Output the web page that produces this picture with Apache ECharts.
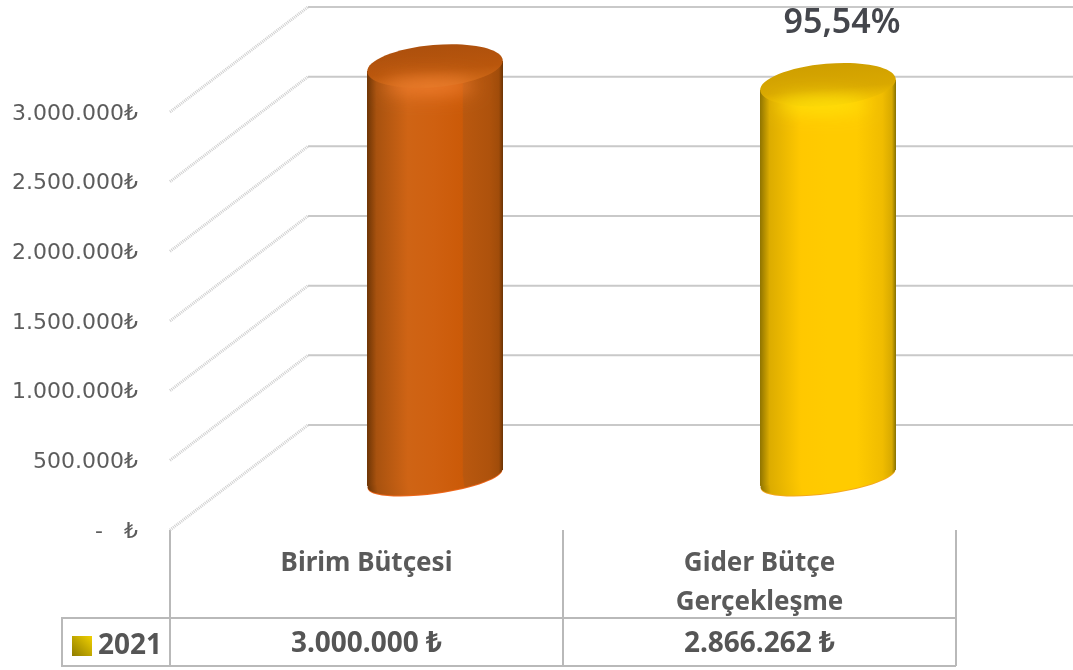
<!DOCTYPE html>
<html>
<head>
<meta charset="utf-8">
<style>
  html, body { margin: 0; padding: 0; background: #fff; }
  #chart { width: 1073px; height: 670px; }
</style>
<script src="https://cdn.jsdelivr.net/npm/echarts@6/dist/echarts.min.js"></script>
</head>
<body>
<div id="chart"></div>
<script>
const categories = ['Birim Bütçesi', 'Gider Bütçe\nGerçekleşme']
const tableValues = ['3.000.000 ₺', '2.866.262 ₺']
const seriesName = '2021'
const budgetValues = [3000000, 2866262]
const barLabels = ['', '95,54%']
const tickValues = [0, 500000, 1000000, 1500000, 2000000, 2500000, 3000000]
const tickLabels = ['-   ₺', '500.000₺', '1.000.000₺', '1.500.000₺', '2.000.000₺', '2.500.000₺', '3.000.000₺']

// the fake 3d: the floor runs back and up from the axis
const wallX = 138
const wallY = -105
const barX = 68.5
const barY = -52
const barRadius = 68
const topShift = 6

const labelFont = '"Noto Sans", sans-serif'
const lineGrey = '#c9c9c9'

const barPalettes = [
  {
    side: ['#6e3505', '#a8520f', '#cf6415', '#cf6010', '#cb5a08', '#b9580f', '#ae520c', '#a04c0a', '#6a3304'],
    top: ['#ad500d', '#b9560c', '#d06a18'],
    glow: 'rgba(245,130,50,0.9)',
    rim: '#f0661a'
  },
  {
    side: ['#8f7400', '#dcac00', '#ffc800', '#ffcb00', '#ffcb00', '#ffcb00', '#f0bc00', '#d8aa00', '#857000'],
    top: ['#cf9f00', '#d9a800', '#f7c600'],
    glow: 'rgba(255,230,10,0.9)',
    rim: '#f5a81c'
  }
]

function sideGradient(colors) {
  const stops = [0, 0.07, 0.3, 0.5, 0.7, 0.71, 0.9, 0.97, 1]
  return new echarts.graphic.LinearGradient(0, 0, 1, 0, colors.map((c, i) => ({ offset: stops[i], color: c })))
}

function renderWall(params, api) {
  const front = api.coord([0, api.value(1)])
  const x0 = params.coordSys.x
  const backX = x0 + wallX
  const backY = front[1] + wallY
  return {
    type: 'group',
    children: [
      {
        type: 'line',
        shape: { x1: x0, y1: front[1], x2: backX, y2: backY },
        style: { stroke: '#cfcfcf', lineWidth: 3, lineDash: [1, 1] }
      },
      {
        type: 'line',
        shape: { x1: backX, y1: backY, x2: api.getWidth(), y2: backY },
        style: { stroke: lineGrey, lineWidth: 2 }
      }
    ]
  }
}

function renderCylinder(params, api) {
  const idx = api.value(0)
  const palette = barPalettes[idx]
  const front = api.coord([idx, api.value(1)])
  const base = api.coord([idx, 0])
  const cx = front[0] + barX
  const topY = front[1] + barY + topShift
  const baseY = base[1] + barY
  const tilt = 5
  const side = sideGradient(palette.side)
  const children = [
    {
      type: 'ellipse',
      shape: { cx: cx, cy: baseY + 1, rx: barRadius, ry: 15 },
      rotation: 8 * Math.PI / 180,
      originX: cx,
      originY: baseY + 1,
      style: { fill: palette.rim }
    },
    {
      type: 'ellipse',
      shape: { cx: cx, cy: baseY, rx: barRadius, ry: 15 },
      rotation: 8 * Math.PI / 180,
      originX: cx,
      originY: baseY,
      style: { fill: side }
    },
    {
      type: 'polygon',
      shape: {
        points: [
          [cx - barRadius, topY + tilt],
          [cx + barRadius, topY - tilt],
          [cx + barRadius, baseY - 8],
          [cx - barRadius, baseY + 8]
        ]
      },
      style: { fill: side }
    },
    {
      type: 'ellipse',
      shape: { cx: cx, cy: topY, rx: barRadius, ry: 21 },
      rotation: 5 * Math.PI / 180,
      originX: cx,
      originY: topY,
      style: {
        fill: new echarts.graphic.LinearGradient(0, 0, 0, 1, [
          { offset: 0, color: palette.top[0] },
          { offset: 0.6, color: palette.top[1] },
          { offset: 1, color: palette.top[2] }
        ])
      }
    },
    // soft highlight under the top rim: the shape sits off the canvas, only its blurred shadow lands on the bar
    {
      type: 'ellipse',
      shape: { cx: cx - 6 - 3000, cy: topY + 20, rx: 46, ry: 8 },
      style: {
        fill: '#000',
        shadowColor: palette.glow,
        shadowBlur: 18,
        shadowOffsetX: 3000
      }
    }
  ]
  if (barLabels[idx]) {
    children.push({
      type: 'text',
      style: {
        x: cx + 14,
        y: topY - 61,
        text: barLabels[idx],
        align: 'center',
        verticalAlign: 'middle',
        fill: '#44464c',
        font: '600 34px ' + labelFont
      }
    })
  }
  return { type: 'group', children: children }
}

const chart = echarts.init(document.getElementById('chart'))

chart.setOption({
  animation: false,
  backgroundColor: '#ffffff',
  grid: { left: 170, right: 117, top: 112, bottom: 140 },
  legend: {
    left: 67,
    top: 627,
    itemWidth: 20,
    itemHeight: 20,
    itemGap: 0,
    selectedMode: false,
    data: [{
      name: seriesName,
      icon: 'rect',
      itemStyle: {
        color: new echarts.graphic.LinearGradient(1, 0, 0, 1, [
          { offset: 0, color: '#f0d000' },
          { offset: 1, color: '#8f7c00' }
        ])
      }
    }],
    textStyle: { color: '#555', fontFamily: labelFont, fontWeight: 'bold', fontSize: 28, padding: [0, 0, 0, 1] }
  },
  xAxis: [
    {
      type: 'category',
      data: categories,
      axisLine: { show: false },
      axisTick: { show: true, length: 136, lineStyle: { color: '#b9b9b9', width: 2 } },
      axisLabel: {
        margin: 14,
        lineHeight: 39,
        color: '#5a5a5a',
        fontFamily: labelFont,
        fontWeight: 'bold',
        fontSize: 26
      }
    },
    {
      type: 'category',
      position: 'bottom',
      offset: 88,
      data: tableValues,
      axisLine: { show: true, onZero: false, lineStyle: { color: '#b9b9b9', width: 2 } },
      axisTick: { show: false },
      axisLabel: {
        margin: 12,
        color: '#555',
        fontFamily: labelFont,
        fontWeight: 'bold',
        fontSize: 28
      }
    }
  ],
  yAxis: {
    type: 'value',
    min: 0,
    max: 3000000,
    interval: 500000,
    axisLine: { show: false },
    axisTick: { show: false },
    splitLine: { show: false },
    axisLabel: {
      margin: 32,
      color: '#5c5c5c',
      fontFamily: '"DejaVu Sans", sans-serif',
      fontSize: 22,
      verticalAlign: 'top',
      lineHeight: 4,
      formatter: (value) => tickLabels[tickValues.indexOf(value)]
    }
  },
  series: [
    {
      name: 'wall',
      type: 'custom',
      silent: true,
      renderItem: renderWall,
      encode: { x: 0, y: 1 },
      data: tickValues.map((v) => [0, v])
    },
    {
      name: seriesName,
      type: 'custom',
      renderItem: renderCylinder,
      encode: { x: 0, y: 1 },
      data: budgetValues.map((v, i) => [i, v])
    }
  ],
  graphic: [
    {
      type: 'polyline',
      shape: { points: [[170, 618], [62, 618], [62, 666], [956, 666]] },
      style: { stroke: '#b9b9b9', lineWidth: 2, fill: null }
    }
  ]
})
</script>
</body>
</html>
